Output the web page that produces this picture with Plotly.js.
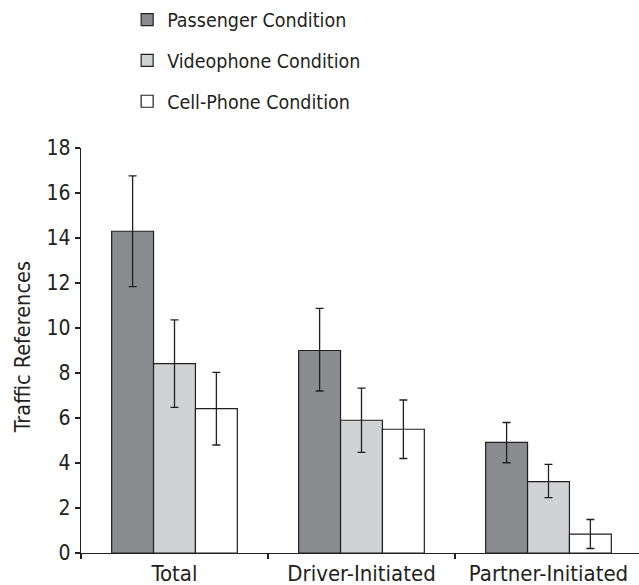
<!DOCTYPE html>
<html>
<head>
<meta charset="utf-8">
<script src="https://cdn.plot.ly/plotly-3.0.1.min.js"></script>
<style>html,body{margin:0;padding:0;background:#fff;}#chart{width:639px;height:585px;}</style>
</head>
<body>
<div id="chart"></div>
<script>
const categories = ["Total", "Driver-Initiated", "Partner-Initiated"];
const seriesNames = ["Passenger Condition", "Videophone Condition", "Cell-Phone Condition"];
const passenger = [14.3, 9.0, 4.92];
const passengerErrUp = [2.46, 1.87, 0.88];
const passengerErrDown = [2.46, 1.8, 0.91];
const videophone = [8.42, 5.9, 3.17];
const videophoneErrUp = [1.94, 1.43, 0.77];
const videophoneErrDown = [1.95, 1.43, 0.71];
const cellphone = [6.42, 5.5, 0.84];
const cellphoneErrUp = [1.61, 1.3, 0.65];
const cellphoneErrDown = [1.62, 1.3, 0.64];
const yTicks = [0, 2, 4, 6, 8, 10, 12, 14, 16, 18];
const yTitle = "Traffic References";

const FONT = '"DejaVu Sans Condensed", "Liberation Sans Narrow", "Liberation Sans", Arial, sans-serif';
const INK = '#231f20';
const fills = ['#8b8c90', '#d1d2d4', '#ffffff'];
const vals = [passenger, videophone, cellphone];
const ups = [passengerErrUp, videophoneErrUp, cellphoneErrUp];
const downs = [passengerErrDown, videophoneErrDown, cellphoneErrDown];

const traces = seriesNames.map((name, i) => ({
  type: 'bar',
  name: name,
  x: categories,
  y: vals[i],
  legendgroup: 'g' + i,
  marker: {color: fills[i], line: {color: INK, width: 1.2}},
  error_y: {type: 'data', symmetric: false, array: ups[i], arrayminus: downs[i],
            color: INK, thickness: 1.3, width: 4},
  hoverinfo: 'none'
}));

const layout = {
  width: 639, height: 585,
  margin: {l: 81, r: 0, t: 148, b: 32, autoexpand: false},
  paper_bgcolor: '#ffffff', plot_bgcolor: '#ffffff',
  font: {family: FONT, size: 19, color: INK},
  barmode: 'group', bargap: 0.328, bargroupgap: 0,
  showlegend: true,
  legend: {x: 0.199, y: 0.9994, xref: 'container', yref: 'container', xanchor: 'left', yanchor: 'top',
           traceorder: 'grouped', tracegroupgap: 12.5,
           font: {family: FONT, size: 19.5, color: INK}, bgcolor: 'rgba(0,0,0,0)'},
  xaxis: {type: 'category', range: [-0.5, 2.484], showgrid: false, zeroline: false,
          showline: true, linecolor: INK, linewidth: 1.2, tickangle: 0,
          ticks: 'outside', tickson: 'boundaries', ticklen: 5, tickcolor: INK, tickwidth: 1.2,
          tickfont: {family: FONT, size: 22, color: INK}, fixedrange: true},
  yaxis: {range: [0, 18], tickvals: yTicks, showgrid: false, zeroline: false,
          showline: true, linecolor: INK, linewidth: 1.2,
          ticks: 'outside', ticklen: 5, tickcolor: INK, tickwidth: 1.2,
          tickfont: {family: FONT, size: 21, color: INK},
          fixedrange: true},
  annotations: [{
    text: yTitle, textangle: -90, showarrow: false,
    xref: 'paper', yref: 'paper', x: -0.1057, y: 0.508,
    xanchor: 'center', yanchor: 'middle',
    font: {family: FONT, size: 21.5, color: INK}
  }]
};

Plotly.newPlot('chart', traces, layout, {displayModeBar: false, staticPlot: true});
</script>
</body>
</html>
